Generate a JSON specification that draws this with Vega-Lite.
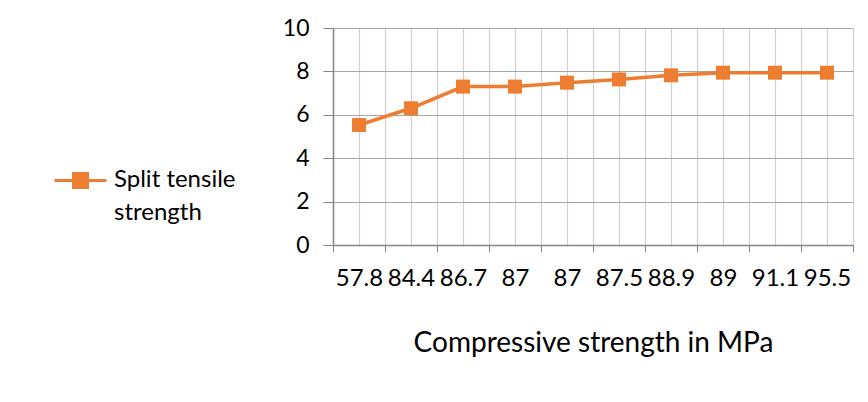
{
  "$schema": "https://vega.github.io/schema/vega-lite/v6.json",
  "width": 520,
  "height": 217,
  "autosize": {"type": "none"},
  "padding": {"left": 333, "top": 28, "right": 15, "bottom": 157},
  "background": "white",
  "config": {"font": "Lato", "view": {"stroke": null}},
  "data": {
    "values": [
      {"compressive": "57.8", "split": 5.53, "series": "Split tensile strength"},
      {"compressive": "84.4", "split": 6.3, "series": "Split tensile strength"},
      {"compressive": "86.7", "split": 7.3, "series": "Split tensile strength"},
      {"compressive": "87", "split": 7.3, "series": "Split tensile strength"},
      {"compressive": "87 ", "split": 7.48, "series": "Split tensile strength"},
      {"compressive": "87.5", "split": 7.63, "series": "Split tensile strength"},
      {"compressive": "88.9", "split": 7.82, "series": "Split tensile strength"},
      {"compressive": "89", "split": 7.94, "series": "Split tensile strength"},
      {"compressive": "91.1", "split": 7.94, "series": "Split tensile strength"},
      {"compressive": "95.5", "split": 7.94, "series": "Split tensile strength"}
    ]
  },
  "encoding": {
    "y": {
      "field": "split",
      "type": "quantitative",
      "scale": {"domain": [0, 10]},
      "axis": {
        "values": [0, 2, 4, 6, 8, 10],
        "title": null,
        "labelFontSize": 23,
        "labelColor": "#000000",
        "labelPadding": 14,
        "tickSize": 10,
        "tickColor": "#868686",
        "domainColor": "#868686",
        "domainWidth": 1.5,
        "grid": true,
        "gridColor": "#a6a6a6",
        "gridWidth": 1.2
      }
    },
    "color": {
      "field": "series",
      "type": "nominal",
      "scale": {"range": ["#ED7D31"]},
      "legend": {
        "orient": "none",
        "legendX": -280,
        "legendY": 125,
        "title": null,
        "padding": 0,
        "labelFontSize": 24,
        "labelColor": "#000000",
        "labelOffset": 6,
        "labelLimit": 300,
        "labelExpr": "[slice(datum.label, 0, 13), slice(datum.label, 14)]",
        "encode": {
          "symbols": {
            "update": {
              "shape": {"value": "M-1,0H1M-0.27,-0.27H0.27V0.27H-0.27Z"},
              "size": {"value": 2704},
              "fill": {"value": "#ED7D31"},
              "stroke": {"value": "#ED7D31"},
              "strokeWidth": {"value": 3},
              "opacity": {"value": 1}
            }
          },
          "labels": {
            "update": {
              "lineHeight": {"value": 33},
              "dy": {"value": -1}
            }
          }
        }
      }
    }
  },
  "layer": [
    {
      "mark": {"type": "line", "strokeWidth": 3.5},
      "encoding": {
        "x": {
          "field": "compressive",
          "type": "ordinal",
          "sort": null,
          "scale": {"paddingInner": 0, "paddingOuter": 0},
          "axis": {
            "title": "Compressive strength in MPa",
            "labelExpr": "trim(datum.label)",
            "labelAngle": 0,
            "labelFontSize": 24,
            "labelColor": "#000000",
            "labelPadding": 14,
            "tickBand": "extent",
            "tickSize": 7,
            "tickColor": "#868686",
            "domainColor": "#868686",
            "domainWidth": 1.5,
            "grid": true,
            "gridColor": "#cfcfcf",
            "gridWidth": 1.2,
            "titleFontSize": 28,
            "titleFontWeight": "normal",
            "titleColor": "#000000",
            "titleX": 260,
            "titleY": 106,
            "titleBaseline": "alphabetic",
            "titleAlign": "center"
          }
        }
      }
    },
    {
      "mark": {"type": "point", "shape": "square", "filled": true, "size": 196, "opacity": 1},
      "encoding": {
        "x": {
          "field": "compressive",
          "type": "ordinal",
          "sort": null,
          "scale": {"paddingInner": 0, "paddingOuter": 0},
          "axis": {
            "orient": "bottom",
            "grid": true,
            "gridColor": "#cfcfcf",
            "gridWidth": 1.2,
            "bandPosition": 0.5,
            "labels": false,
            "ticks": false,
            "domain": false,
            "title": null
          }
        }
      }
    }
  ],
  "resolve": {"axis": {"x": "independent"}}
}
